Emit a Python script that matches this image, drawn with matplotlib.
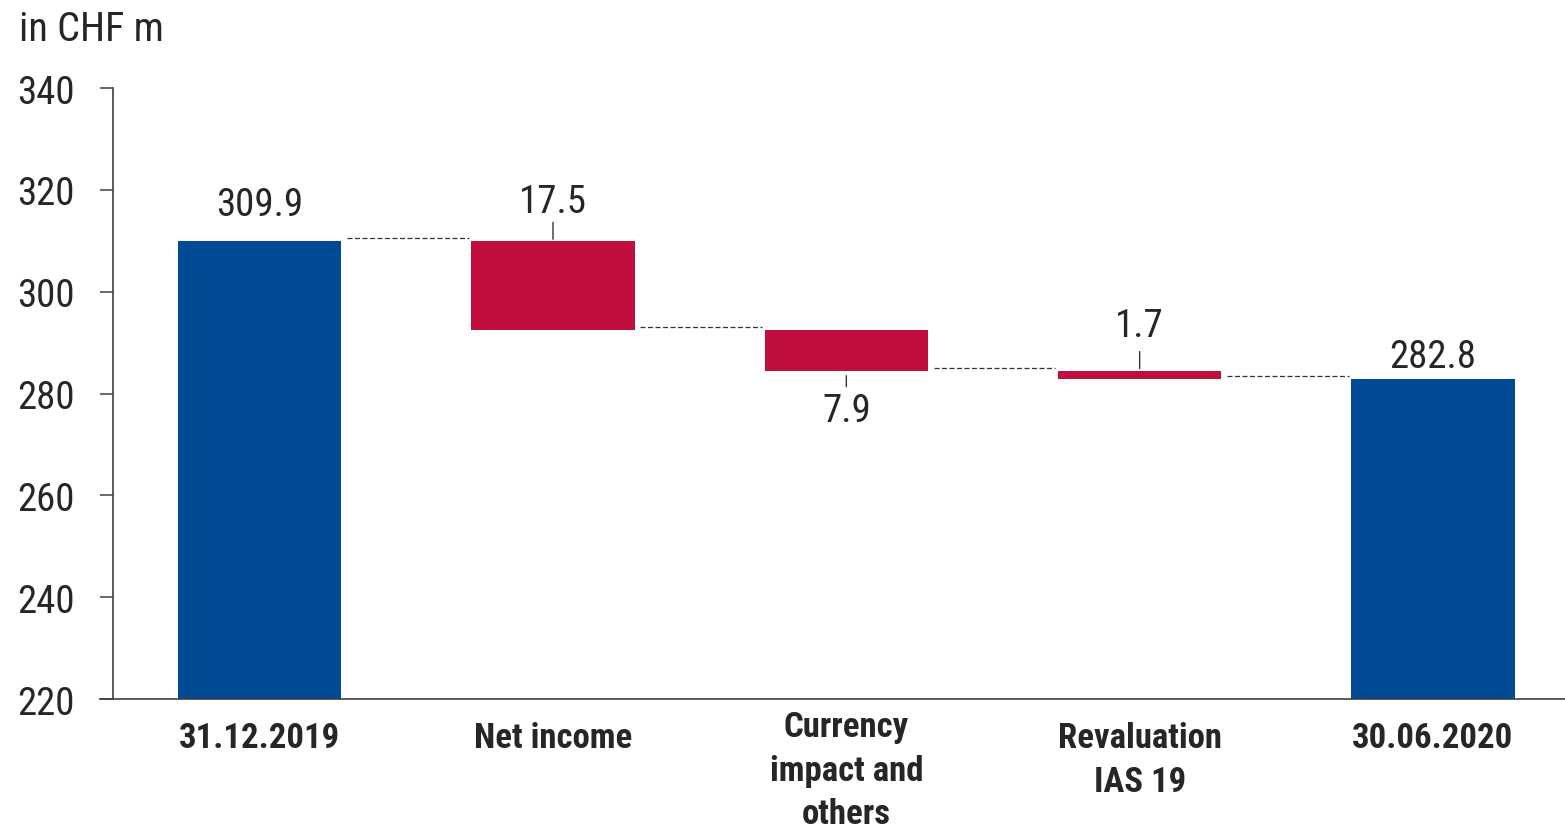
import numpy as np
import matplotlib
matplotlib.use('Agg')
import matplotlib.pyplot as plt
from matplotlib.transforms import ScaledTranslation

plt.rcParams['font.family'] = ['Roboto Condensed', 'Liberation Sans', 'DejaVu Sans']

categories = ['31.12.2019', 'Net income', 'Currency\nimpact and\nothers', 'Revaluation\nIAS 19', '30.06.2020']
opening = 309.9
changes = [-17.5, -7.9, -1.7]
closing = 282.8
label_side = ['above', 'above', 'below', 'above', 'above']

blue = '#004B93'
red = '#C20E3C'
text_color = '#262626'

# build the floating bars
bottoms = [0]
heights = [opening]
colors = [blue]
level = opening
for c in changes:
    new_level = level + c
    bottoms.append(min(level, new_level))
    heights.append(abs(c))
    colors.append(red)
    level = new_level
bottoms.append(0)
heights.append(closing)
colors.append(blue)
tops = [b + h for b, h in zip(bottoms, heights)]
labels = ['{:.1f}'.format(opening)] + ['{:.1f}'.format(abs(c)) for c in changes] + ['{:.1f}'.format(closing)]
levels = [opening] + list(opening + np.cumsum(changes))

fig = plt.figure(figsize=(15.65, 8.29), dpi=100)
ax = fig.add_axes([0.0722, 0.1556, 0.9278, 0.737])

x = np.arange(len(categories))
width = 0.556
ax.bar(x, heights, width=width, bottom=bottoms, color=colors, zorder=2)

# dashed connectors between consecutive bars
for i, lv in enumerate(levels):
    ax.plot([x[i] + width / 2 + 0.02, x[i + 1] - width / 2 - 0.01], [lv + 0.6, lv + 0.6],
            color='#333333', lw=0.9, ls=(0, (4, 2)), zorder=1)

px = 0.72  # pixels to points
fs_val = 28
for i in range(len(categories)):
    if colors[i] == blue:
        off = 18 if i == 0 else 4
        ax.annotate(labels[i], (x[i], tops[i]), xytext=(0, off * px), textcoords='offset points',
                    ha='center', va='bottom', fontsize=fs_val, color=text_color)
    elif label_side[i] == 'above':
        lead = 17
        gap = 4 if i == 1 else 10
        ax.annotate('', (x[i], tops[i] + 0.4), xytext=(0, lead * px), textcoords='offset points',
                    arrowprops=dict(arrowstyle='-', color='#333333', lw=1, shrinkA=0, shrinkB=0))
        ax.annotate(labels[i], (x[i], tops[i]), xytext=(0, (lead + gap) * px), textcoords='offset points',
                    ha='center', va='bottom', fontsize=fs_val, color=text_color)
    else:
        ax.annotate('', (x[i], bottoms[i] - 1.0), xytext=(0, -11 * px), textcoords='offset points',
                    arrowprops=dict(arrowstyle='-', color='#333333', lw=1, shrinkA=0, shrinkB=0))
        ax.annotate(labels[i], (x[i], bottoms[i] - 1.0), xytext=(0, -16 * px), textcoords='offset points',
                    ha='center', va='top', fontsize=fs_val, color=text_color)

ax.set_ylim(220, 340)
ax.set_xlim(-0.5, 4.45)
ax.set_yticks(np.arange(220, 341, 20))
ax.set_xticks(x)
ax.set_xticklabels(categories, fontsize=25, fontweight='bold', color=text_color, linespacing=1.4)
ax.tick_params(axis='x', length=0, pad=16)
ax.tick_params(axis='y', length=9.4, width=1.1, pad=18, labelsize=28, labelcolor=text_color, color='#404040')

# the three-line label sits a little higher
lab = ax.get_xticklabels()[2]
lab.set_transform(lab.get_transform() + ScaledTranslation(0, 0.11, fig.dpi_scale_trans))

for side in ['top', 'right']:
    ax.spines[side].set_visible(False)
for side in ['left', 'bottom']:
    ax.spines[side].set_color('#404040')
    ax.spines[side].set_linewidth(1.2)
ax.spines['bottom'].set_bounds(-0.5 - 13 / 293.4, 4.45)

fig.text(0.012, 0.965, 'in CHF m', fontsize=29, color=text_color, ha='left', va='center')

fig.savefig('out.png', dpi=100)
